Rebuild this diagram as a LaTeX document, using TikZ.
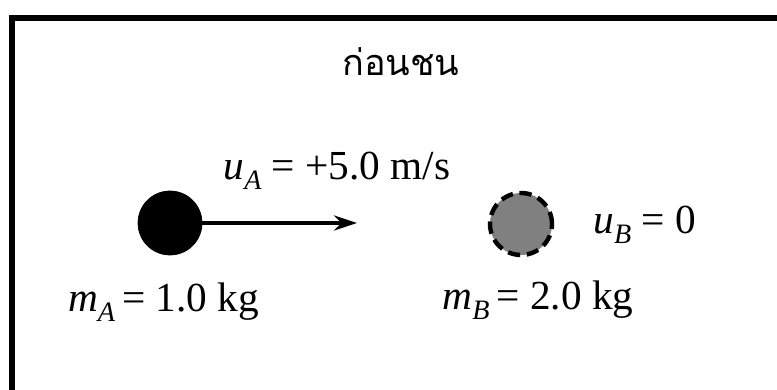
\documentclass[tikz,border=0pt]{standalone}
\usepackage{fontspec}
\setmainfont{Liberation Serif}
\newfontfamily\thaifont[Script=Thai]{Loma}
\usepackage{tikz}
\usetikzlibrary{arrows.meta,positioning}

\newcommand{\lowsub}[1]{\raisebox{-0.5ex}{\fontsize{16}{16}\selectfont\itshape #1}}

\begin{document}
\begin{tikzpicture}[
  font=\fontsize{23.5}{27}\selectfont,
  ball/.style={circle, draw, inner sep=0pt},
  arr/.style={-{Stealth[length=0.46cm, width=0.3cm]}, line width=2.2pt},
  lab/.style={inner sep=0pt}
]
\useasboundingbox (0,0) rectangle (15.54,7.8);
\draw[line width=0.12cm] (0.24,-1) rectangle (16.5,7.44);

\node[lab, font=\fontsize{20.5}{24}\thaifont] (title) at (8.02,6.56) {ก่อนชน};

\node[ball, fill=black, minimum size=1.28cm] (a) at (3.4,3.34) {};
\coordinate (tipa) at (7.14,3.34);
\draw[arr] (a) -- (tipa);
\node[lab] (ua) at (6.74,4.38) {\textit{u}\lowsub{A} = +5.0 m/s};

\node[ball, fill=black!50, line width=2.5pt, dash pattern=on 7pt off 3.8pt,
  minimum size=1.24cm] (b) at (10.42,3.32) {};
\node[lab, anchor=west] (ub) at (11.86,3.3) {\textit{u}\lowsub{B} = 0};

\node[lab] (ma) at (3.27,1.76) {\textit{m}\lowsub{A}\,= 1.0 kg};
\node[lab] (mb) at (10.76,1.8) {\textit{m}\lowsub{B}\,= 2.0 kg};
\end{tikzpicture}
\end{document}
